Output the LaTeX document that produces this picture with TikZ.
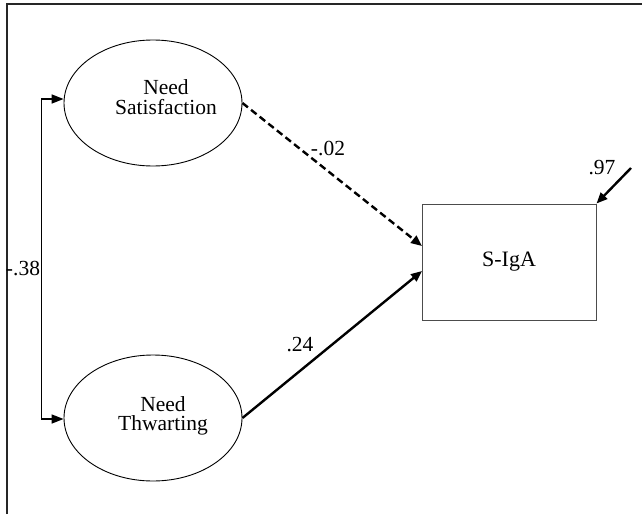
\documentclass[tikz,border=0pt]{standalone}
\usepackage{fontspec}
\setmainfont{Liberation Serif}
\usetikzlibrary{shapes.geometric,arrows.meta}
\begin{document}
\begin{tikzpicture}[x=1pt,y=-1pt,
  latent/.style={ellipse,draw,line width=0.9pt,minimum width=178pt,minimum height=126pt,inner sep=0pt},
  ltext/.style={align=center,inner sep=0pt,font=\fontsize{21.5}{19.5}\selectfont},
  observed/.style={rectangle,draw=black!70,line width=1pt,minimum width=174pt,minimum height=116pt,font=\fontsize{22}{22}\selectfont},
  path/.style={line width=2.4pt,-{Triangle[length=11pt,width=9pt]}},
  lab/.style={font=\fontsize{21.5}{21.5}\selectfont,inner sep=0pt}]
\useasboundingbox (0,0) rectangle (642,514);
\draw[line width=1.6pt,black!85] (7,514) -- (7,4) -- (642,4);
\node[latent] (ns) at (153,103) {};
\node[ltext] (nst) at (166,97) {Need\\Satisfaction};
\node[latent] (nt) at (153,418) {};
\node[ltext] (ntt) at (163,416) {Need\\Thwarting};
\node[observed] (s) at (509,262) {S-IgA};
\coordinate (ct) at (41,99);
\coordinate (cb) at (41,419);
\draw[line width=1pt] (ct) -- (cb);
\draw[path,line width=1.6pt,-{Triangle[length=12pt,width=9pt]}] (ct) -- (ns.west |- ct);
\draw[path,line width=1.6pt,-{Triangle[length=12pt,width=9pt]}] (cb) -- (nt.west |- cb);
\node[lab] (r) at (23,268) {-.38};
\coordinate (sa) at (422,246);
\coordinate (sb) at (422,271);
\draw[path,dashed,dash pattern=on 7pt off 4pt] (ns.east) -- (sa);
\draw[path] (nt.east) -- (sb);
\node[lab] (l1) at (328,149) {-.02};
\node[lab] (l2) at (300,345) {.24};
\coordinate (e) at (631,168);
\draw[path] (e) -- (s.north east);
\node[lab] (l3) at (602,168) {.97};
\end{tikzpicture}
\end{document}
